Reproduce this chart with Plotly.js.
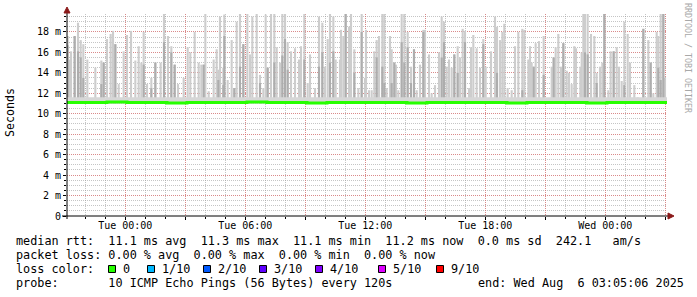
<!DOCTYPE html>
<html><head><meta charset="utf-8">
<script src="https://cdn.plot.ly/plotly-3.0.1.min.js"></script>
<style>html,body{margin:0;padding:0;background:#fff;}#chart{width:697px;height:297px;}</style>
</head><body><div id="chart"></div>
<script>
// ---- data ----
const graphStart = '2025-08-04T21:05:06Z';
const graphEnd = '2025-08-06T03:05:06Z';
// smoke spikes: minutes after graph start, top of spread (ms), darker core top (ms)
const spikeMinutes = [2,6,12,23,33,41,49,61,85,103,110,120,131,138,145,155,170,180,192,205,215,223,230,240,253,265,281,291,303,313,323,333,350,362,370,383,395,403,410,415,425,440,449,
454,459,469,472,482,494,502,509,519,529,541,549,556,569,579,589,596,602,612,622,629,639,646,654,662,672,684,696,702,712,722,729,744,756,766,774,782,789,799,806,819,822,829,836,846,852,862,874,884,894,
897,906,914,922,929,936,946,952,959,969,974,982,987,994,1004,1012,1022,1032,1041,1049,1059,1069,1074,1086,1094,1104,1116,1124,1131,1139,1146,1154,1162,1172,1179,1187,1194,1206,1212,1219,1229,1239,1249,1256,1272,1284,1290,1299,1306,1312,1322,1334,1344,
1354,1366,1372,1384,1389,1394,1400,1406,1416,1430,1454,1460,1466,1474,1482,1489,1499,1506,1514,1522,1527,1540,1544,1549,1554,1562,1572,1582,1589,1599,1606,1612,1624,1631,1640,1649,1656,1664,1672,1682,1689,1702,1712,1729,1744,1751,1759,1769,1774,1781,1789,1794];
const smokeTop = [17.6,15.3,16.1,17.6,18.9,17.2,16.8,15.3,14.5,15.2,15.0,17.3,17.8,18.1,16.8,12.9,16.1,17.7,18.1,15.2,16.6,15.0,18.0,12.9,13.5,15.0,15.0,19.9,17.6,16.6,14.8,12.9,13.5,16.5,16.0,18.0,15.0,14.8,14.8,19.9,12.2,15.3,16.3,
14.3,19.5,14.5,19.7,13.3,17.2,12.5,19.0,19.9,16.8,19.8,15.8,19.5,19.9,13.8,12.5,19.7,14.5,19.8,19.9,16.5,15.0,19.9,19.9,17.0,16.1,16.4,15.3,16.6,19.8,13.0,15.8,12.5,19.5,18.9,14.6,17.3,19.9,19.5,15.3,15.3,18.2,17.6,19.9,18.5,19.9,16.3,12.5,19.9,13.5,
18.2,12.3,12.3,16.1,17.2,17.6,19.9,19.9,12.5,17.6,16.3,15.0,14.8,12.3,19.9,19.9,18.0,14.6,16.3,12.3,14.8,18.2,18.2,15.8,12.0,12.8,16.0,19.5,19.0,14.6,15.3,14.5,15.8,16.6,15.5,18.3,18.1,12.5,16.5,17.7,16.4,14.5,17.3,14.6,16.1,19.5,18.5,17.2,18.0,18.8,12.5,12.3,16.6,
18.0,18.3,18.2,15.3,16.6,15.0,14.6,16.9,17.1,17.6,14.6,15.5,16.5,17.8,14.6,16.9,14.2,14.0,12.9,16.6,16.4,14.6,16.0,19.9,19.9,19.8,17.8,17.6,14.0,14.6,15.0,19.9,12.3,16.1,16.1,16.5,14.6,13.2,19.0,17.8,15.0,12.8,11.6,18.3,17.2,15.0,12.0,18.0,17.6,19.9,19.9,13.5];
const n = null;
const smokeCore = [16.7,n,n,17.6,16.1,15.5,13.5,n,n,12.9,15.0,n,n,n,16.8,n,n,n,n,n,n,n,14.8,n,12.5,15.0,n,17.0,n,16.0,14.8,n,n,n,n,n,n,n,14.8,n,n,n,n,
13.3,n,12.8,17.6,n,n,12.5,n,14.6,16.8,n,n,n,n,13.0,n,n,14.5,n,15.0,n,n,15.7,17.3,14.3,n,n,n,n,15.3,n,n,n,14.6,16.0,n,n,15.0,16.1,n,n,n,n,19.9,n,n,14.0,n,18.0,n,
n,n,n,n,15.5,n,14.6,13.0,n,n,13.0,15.0,n,n,17.0,15.0,16.5,13.0,16.3,n,n,18.0,n,n,n,n,n,15.5,17.0,n,n,n,15.8,14.0,n,n,17.0,n,n,n,n,n,16.8,n,n,n,14.0,n,n,n,n,n,n,
n,12.3,n,n,n,n,14.6,n,n,13.8,n,15.5,n,n,n,16.9,n,n,n,n,n,n,n,n,16.0,15.8,n,n,13.0,n,n,19.9,n,n,16.1,n,n,n,12.8,n,n,n,n,18.3,n,15.0,n,n,14.5,13.3,19.9,n];
const smokeBase = 11.0;
const smokeFloorTop = 11.6;
const medianMinutes = [0,60,120,180,240,300,360,420,480,540,600,660,720,780,840,900,960,1020,1080,1140,1200,1260,1320,1380,1440,1500,1560,1620,1680,1740,1800];
const medianRtt = [11.1,11.1,11.15,11.1,11.1,11.05,11.1,11.1,11.1,11.15,11.1,11.1,11.05,11.1,11.1,11.1,11.1,11.05,11.1,11.1,11.1,11.1,11.05,11.1,11.1,11.1,11.05,11.1,11.1,11.1,11.1];
const xTickVals = ['2025-08-05 00:00','2025-08-05 03:00','2025-08-05 06:00','2025-08-05 09:00','2025-08-05 12:00','2025-08-05 15:00','2025-08-05 18:00','2025-08-05 21:00','2025-08-06 00:00','2025-08-06 03:00'];
const xTickText = ['Tue 00:00','','Tue 06:00','','Tue 12:00','','Tue 18:00','','Wed 00:00',''];
const yTickVals = [0,2,4,6,8,10,12,14,16,18];
const yTickText = ['0','2 m','4 m','6 m','8 m','10 m','12 m','14 m','16 m','18 m'];
const legendLines = [
  'median rtt:  11.1 ms avg  11.3 ms max  11.1 ms min  11.2 ms now  0.0 ms sd  242.1   am/s',
  'packet loss: 0.00 % avg  0.00 % max  0.00 % min  0.00 % now',
  'loss color:',
  'probe:       10 ICMP Echo Pings (56 Bytes) every 120s'
];
const endText = 'end: Wed Aug  6 03:05:06 2025';
const lossLabels = ['0','1/10','2/10','3/10','4/10','5/10','9/10'];
const lossColors = ['#26ff00','#00b8ff','#0059ff','#5e00ff','#7e00ff','#dd00ff','#ff0000'];
const yTitle = 'Seconds';
const watermark = 'RRDTOOL / TOBI OETIKER';

// ---- geometry ----
const W=697,H=297,L=67,R=30,T=14,B=81;
const PW=W-L-R, PH=H-T-B;
const px = x => (x-L)/PW;
const py = y => (H-B-y)/PH;
const t0 = Date.parse(graphStart), t1 = Date.parse(graphEnd);
const toTime = m => t0 + m*60000;
const nb = s => s.replace(/ /g,'\u00a0');
const MONO = 'DejaVu Sans Mono, monospace';

const sx = spikeMinutes.map(toTime);
const barW = 380000;
const traces = [
  {type:'scatter',mode:'lines',x:[t0,t1],y:[smokeBase,smokeBase],line:{width:0,color:'rgba(0,0,0,0)'},hoverinfo:'skip',showlegend:false},
  {type:'scatter',mode:'lines',x:[t0,t1],y:[smokeFloorTop,smokeFloorTop],fill:'tonexty',fillcolor:'#d6d6d6',line:{width:0,color:'rgba(0,0,0,0)'},hoverinfo:'skip',showlegend:false},
  {type:'bar',x:sx,y:smokeTop.map(v=>v-smokeBase),base:smokeBase,width:barW,marker:{color:'#cdcdcd',line:{width:0}},showlegend:false,hoverinfo:'skip'},
  {type:'bar',x:sx,y:smokeCore.map(v=>v===null?null:v-smokeBase),base:smokeBase,width:barW,marker:{color:'#adadad',line:{width:0}},showlegend:false,hoverinfo:'skip'},
  {type:'scatter',mode:'lines',x:medianMinutes.map(toTime),y:medianRtt,line:{color:'#26ff00',width:3,shape:'hv'},showlegend:false,hoverinfo:'skip'}
];

const redGrid='rgba(235,90,90,0.55)', grayGrid='rgba(150,150,150,0.55)';
const shapes = [
  {type:'line',xref:'paper',yref:'paper',x0:px(62),x1:px(668),y0:py(216),y1:py(216),line:{color:'#000',width:1}},
  {type:'line',xref:'paper',yref:'paper',x0:px(67),x1:px(67),y0:py(219),y1:py(13),line:{color:'#000',width:1}},
  {type:'path',xref:'paper',yref:'paper',path:`M ${px(64)} ${py(13)} L ${px(70)} ${py(13)} L ${px(67)} ${py(7)} Z`,fillcolor:'#8b1a1a',line:{color:'#8b1a1a',width:1}},
  {type:'path',xref:'paper',yref:'paper',path:`M ${px(668)} ${py(213)} L ${px(668)} ${py(219)} L ${px(674)} ${py(216)} Z`,fillcolor:'#8b1a1a',line:{color:'#8b1a1a',width:1}}
];
const sqX = [108,147,203,259,315,378,436];
const annotations = [];
const LF = 11.8;
lossColors.forEach((c,i)=>{
  shapes.push({type:'rect',xref:'paper',yref:'paper',x0:px(sqX[i]+0.5),x1:px(sqX[i]+7.5),y0:py(272.5),y1:py(265.5),fillcolor:c,line:{color:'#000',width:1}});
  annotations.push({text:nb(lossLabels[i]),x:px(sqX[i]+14),y:py(269),xanchor:'left',yanchor:'middle'});
});
const lineY=[241,255,269,283];
legendLines.forEach((s,i)=>annotations.push({text:nb(s),x:px(15),y:py(lineY[i]),xanchor:'left',yanchor:'middle'}));
annotations.push({text:nb(endText),x:px(477),y:py(283),xanchor:'left',yanchor:'middle'});
annotations.forEach(a=>{a.xref='paper';a.yref='paper';a.showarrow=false;a.font={family:MONO,size:LF,color:'#000'};a.borderpad=0;});
annotations.push({text:yTitle,xref:'paper',yref:'paper',x:px(10),y:py(113),textangle:-90,showarrow:false,xanchor:'center',yanchor:'middle',font:{family:MONO,size:11.6,color:'#000'},borderpad:0});
annotations.push({text:nb(watermark),xref:'paper',yref:'paper',x:px(688),y:py(58),textangle:90,showarrow:false,xanchor:'center',yanchor:'middle',font:{family:MONO,size:8.3,color:'#a8a8a8'},borderpad:0});

const layout = {
  width:W,height:H,autosize:false,
  margin:{l:L,r:R,t:T,b:B,pad:0},
  paper_bgcolor:'#fff',plot_bgcolor:'#fff',
  barmode:'overlay',showlegend:false,
  xaxis:{type:'date',range:[t0,t1],tickmode:'array',tickvals:xTickVals,ticktext:xTickText,
    ticks:'outside',ticklen:3,tickcolor:'#000',showgrid:true,gridcolor:redGrid,griddash:'1px,1px',gridwidth:1,
    zeroline:false,showline:false,fixedrange:true,ticklabelstandoff:-3,
    tickfont:{family:MONO,size:10,color:'#000'},
    minor:{dtick:3600000,tick0:'2025-08-05 00:00',showgrid:true,gridcolor:grayGrid,griddash:'1px,1px',ticks:'outside',ticklen:2,tickcolor:'#000'}},
  yaxis:{range:[0,19.75],tickmode:'array',tickvals:yTickVals,ticktext:yTickText,
    ticks:'outside',ticklen:3,tickcolor:'#000',showgrid:true,gridcolor:redGrid,griddash:'1px,1px',gridwidth:1,
    zeroline:false,showline:false,fixedrange:true,
    tickfont:{family:MONO,size:10,color:'#000'},
    minor:{dtick:0.5,showgrid:true,gridcolor:grayGrid,griddash:'1px,1px',ticks:'outside',ticklen:2,tickcolor:'#000'}},
  shapes:shapes,annotations:annotations
};
Plotly.newPlot('chart',traces,layout,{staticPlot:true,displayModeBar:false});
</script></body></html>
